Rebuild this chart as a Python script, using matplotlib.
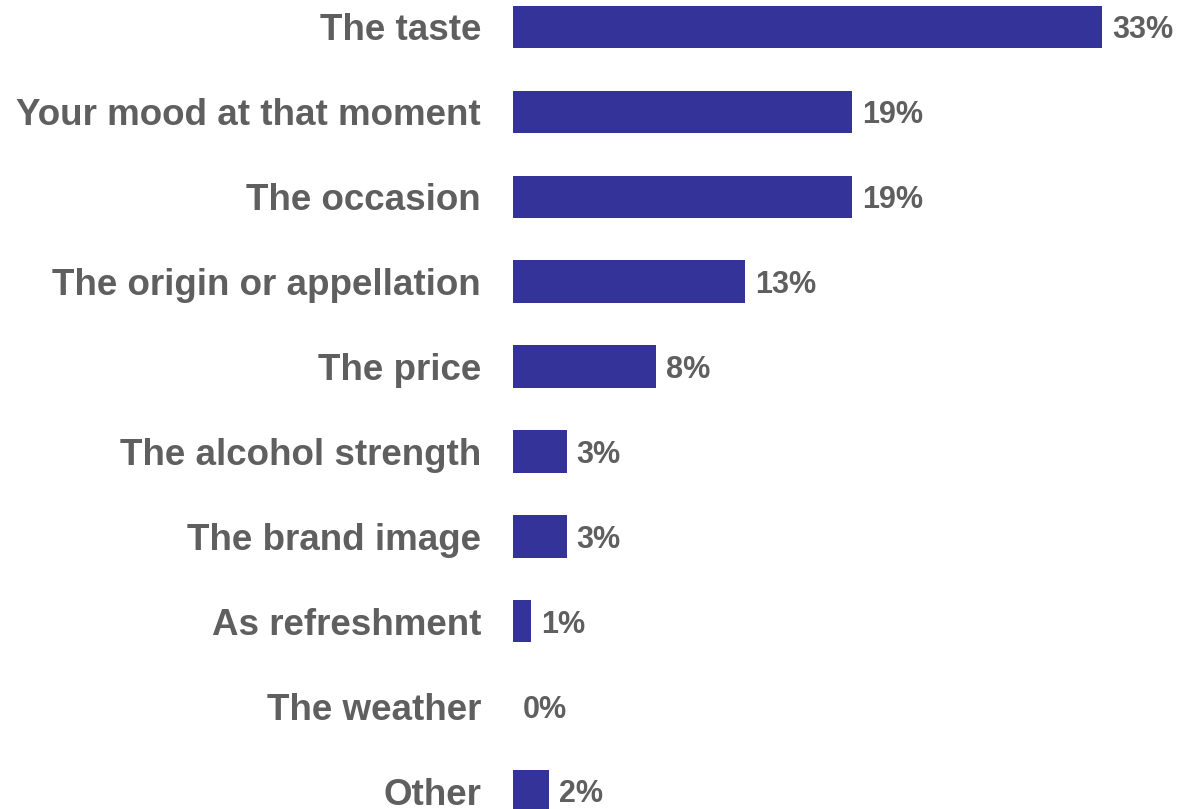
import matplotlib
matplotlib.use("Agg")
import matplotlib.pyplot as plt

categories = ["The taste", "Your mood at that moment", "The occasion",
              "The origin or appellation", "The price", "The alcohol strength",
              "The brand image", "As refreshment", "The weather", "Other"]
shares = [33, 19, 19, 13, 8, 3, 3, 1, 0, 2]

bar_color = "#333399"
text_color = "#5f5f5f"

plt.rcParams["font.family"] = ["Liberation Sans", "DejaVu Sans"]

fig = plt.figure(figsize=(11.77, 8.09), dpi=100)
ax = fig.add_axes([513 / 1177, 0, 664 / 1177, 1])

pos = list(range(len(categories)))
ax.barh(pos, shares, height=0.5, color=bar_color)

ax.set_xlim(0, 37.2)
ax.set_ylim(9.212, -0.318)

for y, v in zip(pos, shares):
    ax.text(v + 0.55, y + 0.04, f"{v}%", va="center", ha="left",
            fontsize=22, fontweight="bold", color=text_color)

ax.set_yticks(pos)
ax.set_yticklabels(categories, fontsize=26.5, fontweight="bold", color=text_color)
ax.tick_params(axis="y", length=0, pad=23)
ax.set_xticks([])
for s in ax.spines.values():
    s.set_visible(False)

fig.savefig("out.png", dpi=100)
